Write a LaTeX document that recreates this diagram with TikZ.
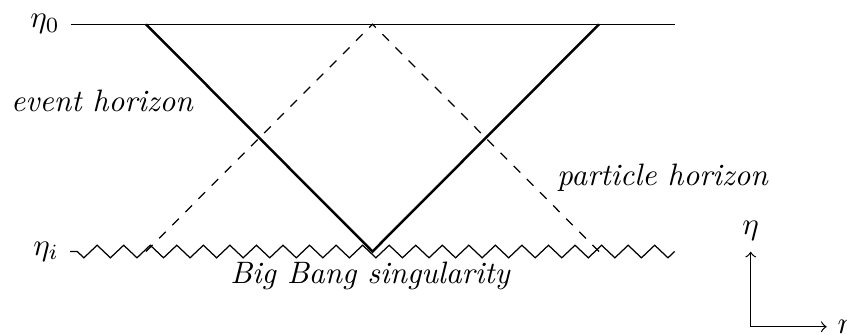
\documentclass[tikz,border=0pt]{standalone}
\usetikzlibrary{decorations.pathmorphing}
\begin{document}
\begin{tikzpicture}[x=0.3226pt,y=-0.3226pt,
  horizonline/.style={thick},
  coneline/.style={dashed},
  singular/.style={decorate,decoration={zigzag,segment length=8.565pt,amplitude=2.03pt}},
  lbl/.style={anchor=base,font=\itshape}]
\useasboundingbox (0,0) rectangle (847,334);
\coordinate (t0) at (70.7,24.3);
\coordinate (t1) at (675,24.3);
\coordinate (b0) at (70,251.5);
\coordinate (b1) at (674.6,251.5);
\coordinate (L) at (146,24.3);
\coordinate (R) at (599,24.3);
\coordinate (V) at (372.5,251.5);
\coordinate (A) at (372.5,24.3);
\coordinate (DL) at (146,251.5);
\coordinate (DR) at (599,251.5);
\draw (t0) -- (t1);
\draw[singular] (b1) -- (b0);
\draw[horizonline] (L) -- (V) -- (R);
\draw[coneline] (DL) -- (A) -- (DR);
\node[left] (eta0) at (t0) {$\eta_0$};
\node[left] (etai) at (b0) {$\eta_i$};
\node[lbl] (eh) at (102,111) {event horizon};
\node[lbl] (ph) at (662.5,185) {particle horizon};
\node[lbl] (bb) at (370,283) {Big Bang singularity};
\coordinate (O) at (750.7,326.7);
\coordinate (Ey) at (750.7,251.7);
\coordinate (Ex) at (826.7,326.7);
\draw[->] (O) -- (Ey) node[above] (etaax) {$\eta$};
\draw[->] (O) -- (Ex) node[right] (rax) {$r$};
\end{tikzpicture}
\end{document}
